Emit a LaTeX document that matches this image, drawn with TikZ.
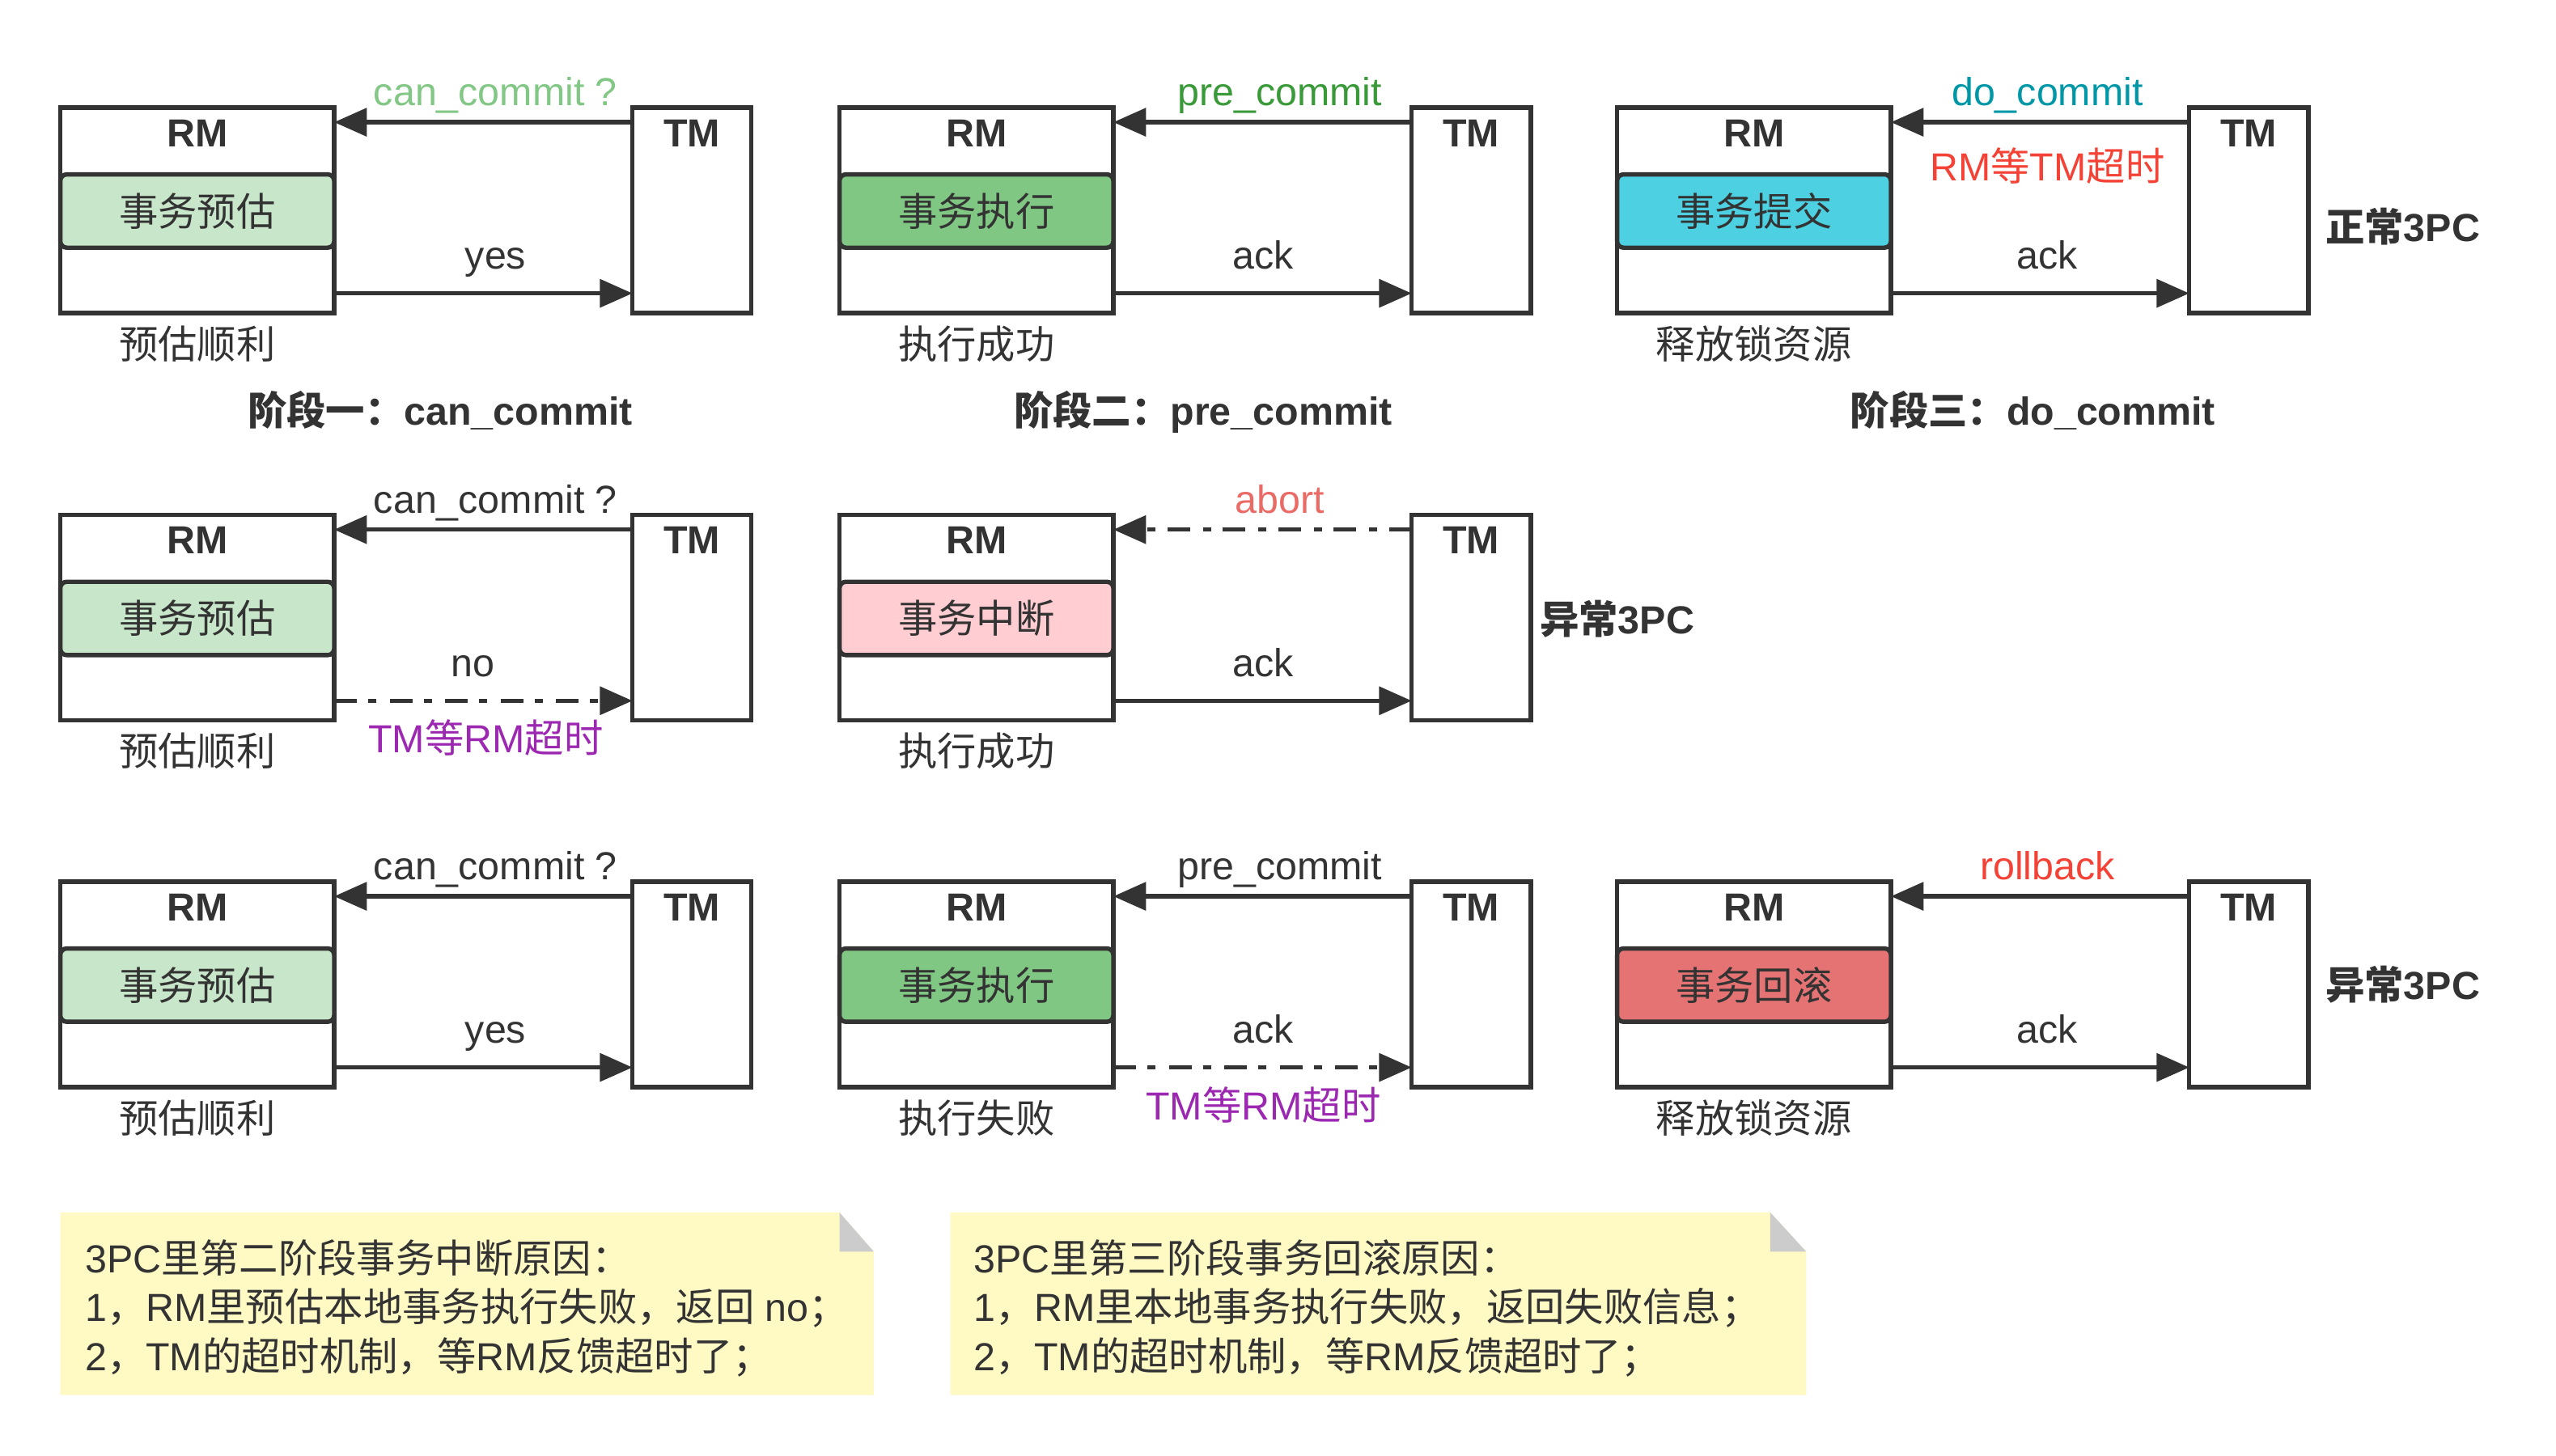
\documentclass[tikz,border=0pt]{standalone}
\usepackage{fontspec}
\setmainfont{Liberation Sans}
\newfontfamily\cjk{Noto Sans CJK SC}
\newcommand\zh[1]{{\cjk #1}}
\usetikzlibrary{arrows.meta}
\definecolor{ink}{HTML}{333333}
\definecolor{gA}{HTML}{C8E6C9}
\definecolor{gB}{HTML}{81C784}
\definecolor{cyA}{HTML}{4DD0E1}
\definecolor{pkA}{HTML}{FFCDD2}
\definecolor{rdA}{HTML}{E57373}
\definecolor{notey}{HTML}{FFF9C4}
\definecolor{foldg}{HTML}{CCCCCC}
\definecolor{lgreen}{HTML}{82C785}
\definecolor{dgreen}{HTML}{3A9A3A}
\definecolor{tealc}{HTML}{0097A7}
\definecolor{redc}{HTML}{F44336}
\definecolor{abortc}{HTML}{EA6B66}
\definecolor{purc}{HTML}{9C27B0}
\tikzset{
 box/.style={draw=ink, line width=2.7pt, fill=white, inner sep=0pt, outer sep=0pt, minimum height=126pt},
 state/.style={draw=ink, line width=2.7pt, rounded corners=4pt, inner sep=0pt, outer sep=0pt,
   minimum width=168pt, minimum height=45pt, text=ink, font=\fontsize{24}{28}\selectfont},
 lbl/.style={text=ink, font=\fontsize{24}{28}\selectfont, inner sep=0pt, anchor=base},
 blbl/.style={lbl, font=\fontsize{24}{28}\selectfont\bfseries},
 notetxt/.style={text=ink, font=\fontsize{24}{28}\selectfont, inner sep=0pt, anchor=base west},
 arr/.style={draw=ink, line width=2.7pt, -{Triangle[length=20pt,width=17pt]}},
 ddarr/.style={arr, dash pattern=on 14pt off 7pt on 5pt off 8pt},
}
\newcommand\panel[6]{%
 \begin{scope}[shift={(#2,#3)}]
  \node[box, minimum width=168pt] (#1rm) at (121,129) {};
  \node[state, fill=#4] (#1st) at (121,129.5) {\zh{#5}};
  \node[blbl] (#1rmt) at (121,90) {RM};
  \node[box, minimum width=73pt] (#1tm) at (424.5,129) {};
  \node[blbl] (#1tmt) at (424.5,90) {TM};
  \node[lbl] (#1res) at (121,220) {\zh{#6}};
 \end{scope}}
\begin{document}
\begin{tikzpicture}[x=1pt,y=-1pt]
\useasboundingbox (0,0) rectangle (1568,893);
% row 1
\panel{pA}{0}{0}{gA}{事务预估}{预估顺利}
\panel{pB}{478}{0}{gB}{事务执行}{执行成功}
\panel{pC}{955}{0}{cyA}{事务提交}{释放锁资源}
% row 2
\panel{pD}{0}{250}{gA}{事务预估}{预估顺利}
\panel{pE}{478}{250}{pkA}{事务中断}{执行成功}
% row 3
\panel{pF}{0}{475}{gA}{事务预估}{预估顺利}
\panel{pG}{478}{475}{gB}{事务执行}{执行失败}
\panel{pH}{955}{475}{rdA}{事务回滚}{释放锁资源}

% arrows row 1
\draw[arr] ([yshift=-9pt]pAtm.north west) -- ([yshift=-9pt]pArm.north east);
\draw[arr] ([yshift=12pt]pArm.south east) -- ([yshift=12pt]pAtm.south west);
\draw[arr] ([yshift=-9pt]pBtm.north west) -- ([yshift=-9pt]pBrm.north east);
\draw[arr] ([yshift=12pt]pBrm.south east) -- ([yshift=12pt]pBtm.south west);
\draw[arr] ([yshift=-9pt]pCtm.north west) -- ([yshift=-9pt]pCrm.north east);
\draw[arr] ([yshift=12pt]pCrm.south east) -- ([yshift=12pt]pCtm.south west);
% arrows row 2
\draw[arr] ([yshift=-9pt]pDtm.north west) -- ([yshift=-9pt]pDrm.north east);
\draw[ddarr] ([yshift=12pt]pDrm.south east) -- ([yshift=12pt]pDtm.south west);
\draw[ddarr] ([yshift=-9pt]pEtm.north west) -- ([yshift=-9pt]pErm.north east);
\draw[arr] ([yshift=12pt]pErm.south east) -- ([yshift=12pt]pEtm.south west);
% arrows row 3
\draw[arr] ([yshift=-9pt]pFtm.north west) -- ([yshift=-9pt]pFrm.north east);
\draw[arr] ([yshift=12pt]pFrm.south east) -- ([yshift=12pt]pFtm.south west);
\draw[arr] ([yshift=-9pt]pGtm.north west) -- ([yshift=-9pt]pGrm.north east);
\draw[ddarr] ([yshift=12pt]pGrm.south east) -- ([yshift=12pt]pGtm.south west);
\draw[arr] ([yshift=-9pt]pHtm.north west) -- ([yshift=-9pt]pHrm.north east);
\draw[arr] ([yshift=12pt]pHrm.south east) -- ([yshift=12pt]pHtm.south west);

% labels row 1
\node[lbl, text=lgreen] (lA1) at (304,65) {can\_commit ?};
\node[lbl] (lA2) at (304,165) {yes};
\node[lbl, text=dgreen] (lB1) at (785,65) {pre\_commit};
\node[lbl] (lB2) at (775,165) {ack};
\node[lbl, text=tealc] (lC1) at (1256,65) {do\_commit};
\node[lbl, text=redc] (lC3) at (1256,111) {RM\zh{等}TM\zh{超时}};
\node[lbl] (lC2) at (1256,165) {ack};
\node[blbl] (st1) at (270,261) {\zh{阶段一：}can\_commit};
\node[blbl] (st2) at (738,261) {\zh{阶段二：}pre\_commit};
\node[blbl] (st3) at (1247,261) {\zh{阶段三：}do\_commit};
\node[blbl] (side1) at (1474,148) {\zh{正常}3PC};
% labels row 2
\node[lbl] (lD1) at (304,315) {can\_commit ?};
\node[lbl] (lD2) at (290,415) {no};
\node[lbl, text=purc] (lD3) at (298,462) {TM\zh{等}RM\zh{超时}};
\node[lbl, text=abortc] (lE1) at (785,315) {abort};
\node[lbl] (lE2) at (775,415) {ack};
\node[blbl] (side2) at (992,389) {\zh{异常}3PC};
% labels row 3
\node[lbl] (lF1) at (304,540) {can\_commit ?};
\node[lbl] (lF2) at (304,640) {yes};
\node[lbl] (lG1) at (785,540) {pre\_commit};
\node[lbl] (lG2) at (775,640) {ack};
\node[lbl, text=purc] (lG3) at (775,687) {TM\zh{等}RM\zh{超时}};
\node[lbl, text=redc] (lH1) at (1256,540) {rollback};
\node[lbl] (lH2) at (1256,640) {ack};
\node[blbl] (side3) at (1474,613) {\zh{异常}3PC};

% notes
\fill[notey] (37,744) -- (515,744) -- (536,768) -- (536,856) -- (37,856) -- cycle;
\fill[foldg] (515,744) -- (536,768) -- (515,768) -- cycle;
\node[notetxt] (n1a) at (52,781) {3PC\zh{里第二阶段事务中断原因：}};
\node[notetxt] (n1b) at (52,811) {1\zh{，}RM\zh{里预估本地事务执行失败，返回} no\zh{；}};
\node[notetxt] (n1c) at (52,841) {2\zh{，}TM\zh{的超时机制，等}RM\zh{反馈超时了；}};
\fill[notey] (583,744) -- (1086,744) -- (1108,768) -- (1108,856) -- (583,856) -- cycle;
\fill[foldg] (1086,744) -- (1108,768) -- (1086,768) -- cycle;
\node[notetxt] (n2a) at (597,781) {3PC\zh{里第三阶段事务回滚原因：}};
\node[notetxt] (n2b) at (597,811) {1\zh{，}RM\zh{里本地事务执行失败，返回失败信息；}};
\node[notetxt] (n2c) at (597,841) {2\zh{，}TM\zh{的超时机制，等}RM\zh{反馈超时了；}};
\end{tikzpicture}
\end{document}
